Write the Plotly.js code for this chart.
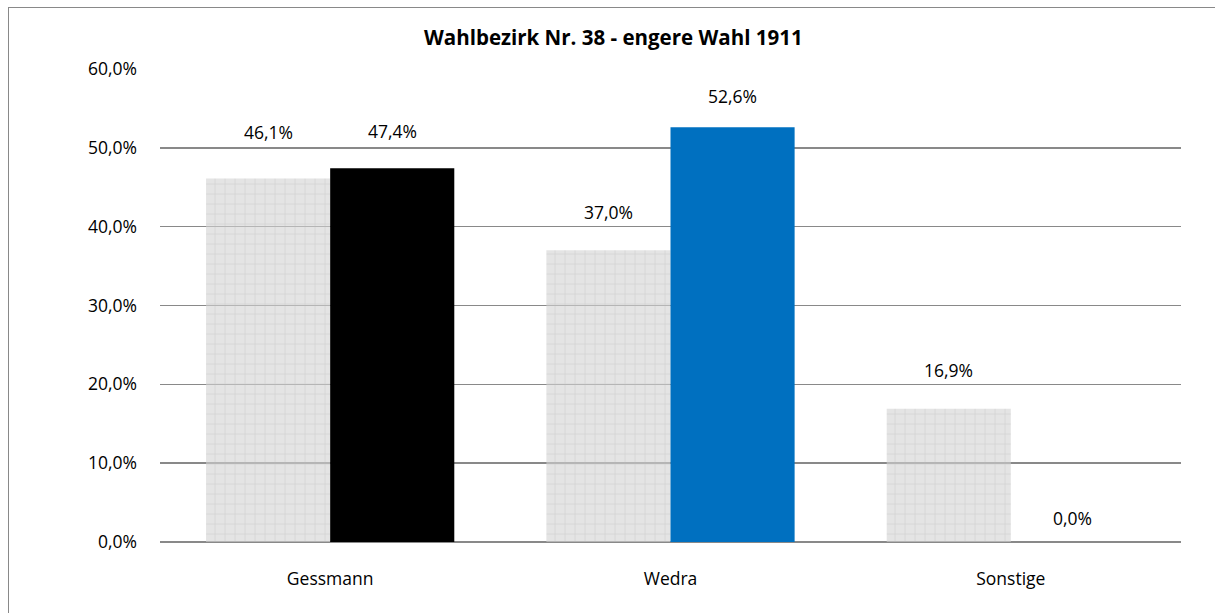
<!DOCTYPE html>
<html>
<head>
<meta charset="utf-8">
<script src="https://cdn.plot.ly/plotly-3.0.1.min.js"></script>
<style>
html,body{margin:0;padding:0;background:#fff;overflow:hidden;}
#wrap{position:relative;width:1215px;height:613px;}
#frame{position:absolute;left:8px;top:7px;width:1300px;height:700px;border-left:1.5px solid #898989;border-top:1.5px solid #898989;pointer-events:none;}
#chart{width:1215px;height:613px;}
</style>
</head>
<body>
<div id="wrap">
<div id="chart"></div>
<div id="frame"></div>
</div>
<script>
const categories = ['Gessmann', 'Wedra', 'Sonstige'];
const previousValues = [46.1, 37.0, 16.9];
const runoffValues = [47.4, 52.6, 0.0];
const yTicks = [0, 10, 20, 30, 40, 50, 60];
const chartTitle = 'Wahlbezirk Nr. 38 - engere Wahl 1911';

// label pixel offsets above bar tops (style)
const prevLabelShift = [47, 38, 39];
const runoffLabelShift = [37, 31, 24];

const FONT = 'Open Sans, sans-serif';
const fmt = v => v.toFixed(1).replace('.', ',') + '%';

const traces = [
  {
    type: 'bar', x: categories, y: previousValues, name: 'vorher',
    marker: {
      color: 'rgba(205,205,205,0.55)',
      line: {width: 0},
      pattern: {shape: '+', size: 10, solidity: 0.12, fgcolor: '#bdbdbd', bgcolor: 'rgba(210,210,210,0.6)', fillmode: 'overlay'}
    },
    hoverinfo: 'skip'
  },
  {
    type: 'bar', x: categories, y: runoffValues, name: 'engere Wahl',
    marker: {color: ['#000000', '#0070C0', '#7f7f7f'], line: {width: 0}},
    hoverinfo: 'skip'
  }
];

const halfW = (1 - 0.2706) / 4;
const annotations = [];
categories.forEach((c, i) => {
  annotations.push({x: i - halfW, y: previousValues[i], xref: 'x', yref: 'y', text: fmt(previousValues[i]),
    showarrow: false, yanchor: 'middle', yshift: prevLabelShift[i], font: {family: FONT, size: 17.5, color: '#000'}});
  annotations.push({x: i + halfW, y: runoffValues[i], xref: 'x', yref: 'y', text: fmt(runoffValues[i]),
    showarrow: false, yanchor: 'middle', yshift: runoffLabelShift[i], font: {family: FONT, size: 17.5, color: '#000'}});
});
annotations.push({xref: 'paper', yref: 'paper', x: 0.444, y: 1, yshift: 32, text: '<b>' + chartTitle + '</b>',
  showarrow: false, xanchor: 'center', yanchor: 'middle', font: {family: FONT, size: 20.5, color: '#000'}});

const layout = {
  width: 1215, height: 613,
  margin: {l: 160, r: 34, t: 69, b: 71},
  paper_bgcolor: '#fff', plot_bgcolor: '#fff',
  barmode: 'group', bargap: 0.2706, bargroupgap: 0,
  showlegend: false,
  font: {family: FONT, size: 17.5, color: '#000'},
  xaxis: {
    type: 'category', showgrid: false, showline: false, ticks: '', ticklabelstandoff: 24,
    tickfont: {family: FONT, size: 17.5, color: '#000'}, fixedrange: true
  },
  yaxis: {
    range: [0, 60], tickvals: yTicks, ticktext: yTicks.map(fmt),
    showgrid: true, gridcolor: '#898989', gridwidth: 1.4,
    zeroline: true, zerolinecolor: '#898989', zerolinewidth: 1.4,
    showline: false, ticks: '', ticklabelstandoff: 22,
    tickfont: {family: FONT, size: 17.5, color: '#000'}, fixedrange: true
  },
  annotations: annotations
};

Plotly.newPlot('chart', traces, layout, {displayModeBar: false, staticPlot: true});
</script>
</body>
</html>
